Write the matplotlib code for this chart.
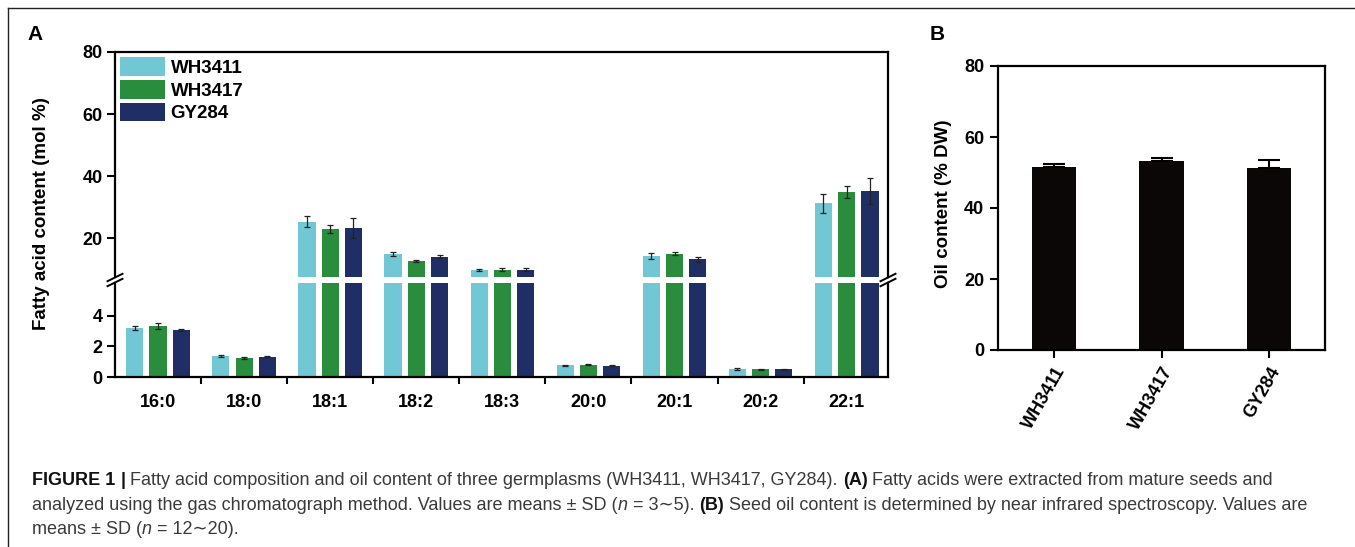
import numpy as np
import matplotlib
matplotlib.use('Agg')
import matplotlib.pyplot as plt
from matplotlib.lines import Line2D

plt.rcParams['font.family'] = ['Liberation Sans', 'DejaVu Sans']

# ---- data ----
acids = ['16:0', '18:0', '18:1', '18:2', '18:3', '20:0', '20:1', '20:2', '22:1']
germplasms = ['WH3411', 'WH3417', 'GY284']
wh3411 = [3.2, 1.38, 25.3, 14.8, 9.7, 0.78, 14.2, 0.52, 31.2]
wh3411_sd = [0.12, 0.05, 1.9, 0.7, 0.3, 0.03, 1.0, 0.04, 3.0]
wh3417 = [3.35, 1.22, 22.9, 12.6, 9.7, 0.80, 15.0, 0.50, 34.8]
wh3417_sd = [0.22, 0.06, 1.3, 0.3, 0.5, 0.03, 0.4, 0.03, 2.0]
gy284 = [3.08, 1.33, 23.2, 14.0, 9.7, 0.75, 13.1, 0.50, 35.2]
gy284_sd = [0.04, 0.05, 3.1, 0.4, 0.5, 0.02, 0.8, 0.03, 4.2]

oil = [51.5, 53.2, 51.4]
oil_sd = [1.0, 1.0, 2.1]

colors = ['#72c7d5', '#2a8d3d', '#1f2f66']

W, H = 1355, 547
fig = plt.figure(figsize=(W / 100, H / 100), dpi=100)


def fx(px):
    return px / W


def fy(py):
    return 1 - py / H


# ---- panel A (broken y axis) ----
axU = fig.add_axes([fx(115), fy(277), fx(888 - 115), (277 - 52) / H])
axL = fig.add_axes([fx(115), fy(377), fx(888 - 115), (377 - 283) / H])

x = np.arange(len(acids))
offs = [-0.27, 0.0, 0.27]
series = [(wh3411, wh3411_sd), (wh3417, wh3417_sd), (gy284, gy284_sd)]
handles = []
for ax in (axU, axL):
    for k, (vals, sds) in enumerate(series):
        b = ax.bar(x + offs[k], vals, 0.2, color=colors[k], yerr=sds,
                   error_kw=dict(ecolor='#222222', elinewidth=0.9,
                                 capsize=2.2, capthick=0.9))
        if ax is axU:
            handles.append(b)
    ax.set_xlim(-0.5, 8.48)
    for s in ax.spines.values():
        s.set_linewidth(1.6)
    ax.tick_params(axis='y', direction='out', length=6, width=1.5,
                   labelsize=13, pad=3)

axU.set_ylim(7.42, 80)
axU.set_yticks([20, 40, 60, 80])
axU.spines['bottom'].set_visible(False)
axU.tick_params(axis='x', bottom=False, labelbottom=False)

axL.set_ylim(0, 6.16)
axL.set_yticks([0, 2, 4])
axL.spines['top'].set_visible(False)
axL.set_xticks(x[:-1] + 0.5)
axL.set_xticklabels([])
axL.set_xticks(x, minor=True)
axL.set_xticklabels(acids, minor=True, fontsize=13, fontweight='bold')
axL.tick_params(axis='x', which='major', direction='out', length=5, width=1.5)
axL.tick_params(axis='x', which='minor', length=0, pad=12)

for ax in (axU, axL):
    for lab in ax.get_yticklabels():
        lab.set_fontweight('bold')

axU.legend(handles, germplasms, loc='upper left',
           bbox_to_anchor=(5 / 773, 1 - 5 / 225), frameon=False,
           handlelength=2.4, handleheight=1.17, labelspacing=0.16,
           handletextpad=0.3, borderpad=0, borderaxespad=0,
           prop=dict(size=13.5, weight='bold'))

fig.text(fx(42), fy(214), 'Fatty acid content (mol %)', rotation=90,
         ha='center', va='center', fontsize=13.5, fontweight='bold')

# break marks
for xb in (115, 888):
    for yc in (277.5, 282.5):
        fig.add_artist(Line2D([fx(xb - 7.5), fx(xb + 7.5)],
                              [fy(yc + 3.7), fy(yc - 3.7)],
                              transform=fig.transFigure, color='black', lw=1.4))

# ---- panel B ----
axB = fig.add_axes([fx(998), fy(350), fx(327), 284 / H])
xb = np.arange(len(germplasms))
axB.bar(xb, oil, 0.41, color='#0a0706',
        yerr=[np.zeros(len(oil)), oil_sd],
        error_kw=dict(ecolor='black', elinewidth=1.5, capsize=8, capthick=1.5))
axB.set_xlim(-0.52, 2.52)
axB.set_ylim(0, 80)
axB.set_yticks([0, 20, 40, 60, 80])
axB.set_xticks(xb)
axB.set_xticklabels(germplasms, rotation=60, ha='right', rotation_mode='anchor',
                    fontsize=13, fontweight='bold')
for lab in axB.get_yticklabels():
    lab.set_fontweight('bold')
for s in axB.spines.values():
    s.set_linewidth(1.6)
axB.tick_params(axis='both', direction='out', length=6, width=1.5,
                labelsize=13, pad=4)
fig.text(fx(943), fy(204), 'Oil content (% DW)', rotation=90,
         ha='center', va='center', fontsize=13.5, fontweight='bold')

# panel letters
fig.text(fx(35), fy(35), 'A', ha='center', va='center', fontsize=15, fontweight='bold')
fig.text(fx(937), fy(35), 'B', ha='center', va='center', fontsize=15, fontweight='bold')

# frame
fig.add_artist(Line2D([fx(8), 1], [fy(8), fy(8)], transform=fig.transFigure,
                      color='#222222', lw=1.0))
fig.add_artist(Line2D([fx(8), fx(8)], [0, fy(8)], transform=fig.transFigure,
                      color='#222222', lw=1.0))

# ---- caption ----
cap_size = 13
cap_col = '#3a3a3a'
renderer = fig.canvas.get_renderer()
t1 = fig.text(0, 0, 'x x', fontsize=cap_size)
t2 = fig.text(0, 0, 'xx', fontsize=cap_size)
space = t1.get_window_extent(renderer).width - t2.get_window_extent(renderer).width
t1.remove()
t2.remove()


def caption_line(px, baseline, segs):
    cur = px
    for txt, kind, gap in segs:
        kw = dict(fontsize=cap_size, color=cap_col, va='baseline', ha='left')
        if kind == 'b':
            kw['fontweight'] = 'bold'
            kw['color'] = '#111111'
        elif kind == 'i':
            kw['style'] = 'italic'
        t = fig.text(fx(cur), fy(baseline), txt, **kw)
        cur += t.get_window_extent(renderer).width + (space if gap else 0)


caption_line(32, 485, [
    ('FIGURE 1', 'b', True), ('|', 'b', True),
    ('Fatty acid composition and oil content of three germplasms (WH3411, WH3417, GY284).', 'r', True),
    ('(A)', 'b', True),
    ('Fatty acids were extracted from mature seeds and', 'r', False)])
caption_line(32, 509.5, [
    ('analyzed using the gas chromatograph method. Values are means \u00b1 SD (', 'r', False),
    ('n', 'i', True), ('= 3\u223c5).', 'r', True), ('(B)', 'b', True),
    ('Seed oil content is determined by near infrared spectroscopy. Values are', 'r', False)])
caption_line(32, 534, [
    ('means \u00b1 SD (', 'r', False), ('n', 'i', True), ('= 12\u223c20).', 'r', False)])

fig.savefig('out.png', dpi=100)
